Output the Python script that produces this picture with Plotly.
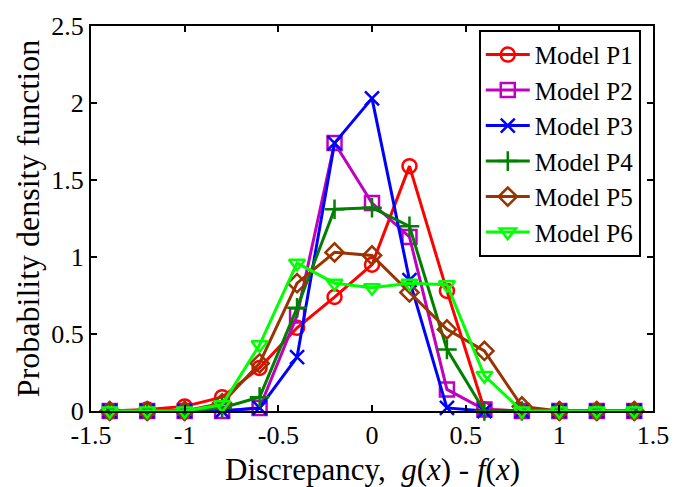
import plotly.graph_objects as go

# Discrepancy bin centres
x_vals = [-1.4, -1.2, -1.0, -0.8, -0.6, -0.4, -0.2, 0.0, 0.2, 0.4, 0.6, 0.8, 1.0, 1.2, 1.4]

# Probability density per model
p1 = [0.0, 0.01, 0.03, 0.09, 0.28, 0.54, 0.74, 0.95, 1.59, 0.78, 0.01, 0.0, 0.0, 0.0, 0.0]
p2 = [0.0, 0.0, 0.0, 0.0, 0.02, 0.62, 1.74, 1.35, 1.13, 0.14, 0.01, 0.0, 0.0, 0.0, 0.0]
p3 = [0.0, 0.0, 0.0, 0.0, 0.02, 0.35, 1.74, 2.03, 0.85, 0.02, 0.0, 0.0, 0.0, 0.0, 0.0]
p4 = [0.0, 0.0, 0.0, 0.02, 0.09, 0.67, 1.31, 1.32, 1.20, 0.40, 0.0, 0.0, 0.0, 0.0, 0.0]
p5 = [0.0, 0.0, 0.0, 0.05, 0.31, 0.83, 1.03, 1.01, 0.77, 0.53, 0.39, 0.03, 0.0, 0.0, 0.0]
p6 = [0.0, 0.0, 0.0, 0.04, 0.43, 0.96, 0.83, 0.80, 0.83, 0.82, 0.23, 0.0, 0.0, 0.0, 0.0]

names = ["Model P1", "Model P2", "Model P3", "Model P4", "Model P5", "Model P6"]
series = [p1, p2, p3, p4, p5, p6]
colors = ["#ff0000", "#bf00bf", "#0000ff", "#007f00", "#993300", "#00ff00"]
symbols = ["circle-open", "square-open", "x-thin-open", "cross-thin-open",
           "diamond-open", "triangle-down-open"]

FONT = "Liberation Serif, Times New Roman, serif"

fig = go.Figure()
for name, ys, c, s in zip(names, series, colors, symbols):
    fig.add_trace(go.Scatter(
        x=x_vals, y=ys, name=name, mode="lines+markers",
        line=dict(color=c, width=3),
        marker=dict(symbol=s, size=14, color=c, line=dict(color=c, width=2.5)),
        cliponaxis=False,
    ))

axis_common = dict(
    showline=True, linecolor="black", linewidth=2, mirror="ticks",
    ticks="inside", ticklen=6, tickwidth=1.5, tickcolor="black",
    showgrid=False, zeroline=False,
    tickfont=dict(family=FONT, size=26, color="black"),
)

fig.update_xaxes(
    range=[-1.5, 1.5], tickmode="array",
    tickvals=[-1.5, -1, -0.5, 0, 0.5, 1, 1.5],
    ticktext=["-1.5", "-1", "-0.5", "0", "0.5", "1", "1.5"],
    **axis_common,
)
fig.update_yaxes(
    range=[0, 2.5], tickmode="array",
    tickvals=[0, 0.5, 1, 1.5, 2, 2.5],
    ticktext=["0", "0.5", "1", "1.5", "2", "2.5"],
    title=dict(text="Probability density function",
               font=dict(family=FONT, size=32, color="black"), standoff=2),
    **axis_common,
)

# x-axis title placed as an annotation just below the tick labels
fig.add_annotation(
    text="Discrepancy,  <i>g</i>(<i>x</i>) - <i>f</i>(<i>x</i>)",
    xref="paper", yref="paper", x=0.5, y=-0.152,
    xanchor="center", yanchor="middle", showarrow=False,
    font=dict(family=FONT, size=31, color="black"),
)

fig.update_layout(
    width=681, height=487,
    margin=dict(l=91, r=23, t=21, b=76),
    paper_bgcolor="white", plot_bgcolor="white",
    font=dict(family=FONT, color="black"),
    legend=dict(
        x=0.69, y=0.99, xanchor="left", yanchor="top",
        bgcolor="white", bordercolor="black", borderwidth=2,
        font=dict(family=FONT, size=25, color="black"),
        tracegroupgap=0, itemwidth=44,
    ),
)

fig.write_html("out.html")
